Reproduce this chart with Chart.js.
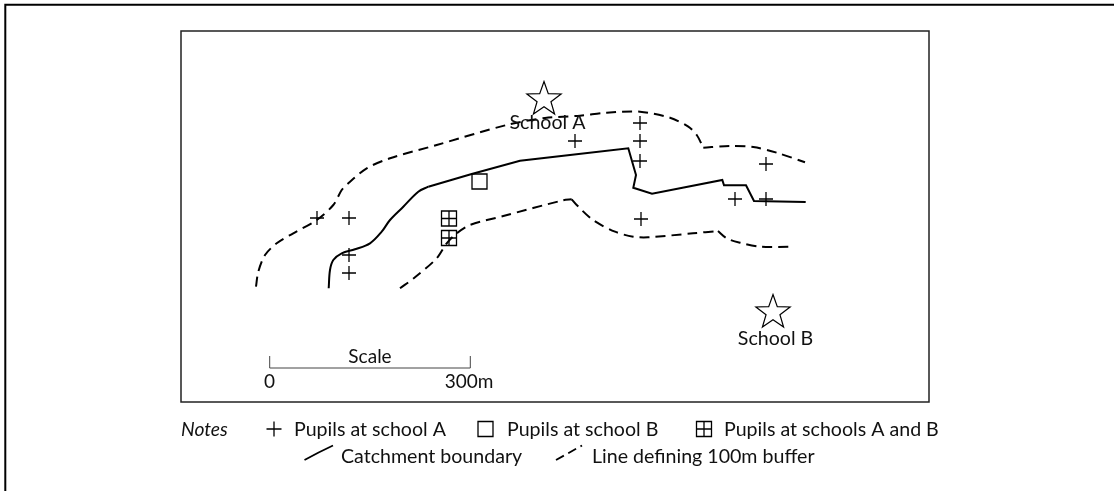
<!DOCTYPE html>
<html><head><meta charset="utf-8">
<style>html,body{margin:0;padding:0;background:#fff}#wrap{position:relative;width:1114px;height:491px;overflow:hidden}canvas{display:block}</style>
<script src="https://cdn.jsdelivr.net/npm/chart.js@4/dist/chart.umd.min.js"></script>
</head><body><div id="wrap"><canvas id="c" width="1114" height="491"></canvas></div>
<script>
// Map grid coordinates, origin at the lower-left corner of the map.
const pupilsA=[[136,184],[168,184],[168,147],[168,129],[394,261],[459,279],[459,261],[459,241],[460,183],[585,238],[554,203],[585,203]];
const pupilsB=[[298.5,220.5]];
const pupilsBoth=[[268,183.5],[268,164]];
const schools=[[363,304],[592,91]];
const schoolNames=['School A','School B'];
const catchmentCurve=[[147.7,113.7],[149,132],[152.3,142],[160.7,148.7],[174,152.7],[189,158.7],[200.7,170.3],[209,182],[222.3,195.3],[237.3,210.3],[247.3,215.3]];
const catchmentAngular=[[247.3,215.3],[290.7,228],[339,241.3],[389,247],[447.3,253.7],[455,227],[452.3,214.3],[471,208.3],[541.3,222],[543,216.7],[565,216.7],[573,201],[624.7,200]];
const bufferNorth=[[75,115.3],[77.3,130.3],[84,147],[95.7,158.7],[112.3,168.7],[135.7,182],[152.3,197],[160.7,212],[167.3,218.7],[185.7,233.7],[209,243.7],[255.7,257],[325.7,277],[364,284],[399,286.3],[425.7,289.3],[459,290.3],[489,284.3],[507.3,275.3],[515.7,267],[522.3,254.3]];
const bufferNorthEast=[[522.3,254.3],[549,256],[572.3,255],[595.7,249.3],[624,239.7]];
const bufferSouth=[[219,113.7],[234,124.7],[255.7,143.7],[265.7,158.7],[275.7,168.7],[289,177],[322.3,186],[382,201.7],[390.7,202.7]];
const bufferSouthEast=[[390.7,202.7],[395.7,197],[412,182],[434,170.3],[452.3,165.3],[467,164.7],[512,168.7],[537,171]];
const bufferSouthTail=[[537,171],[545.7,163.7],[559,159.3],[579,155.3],[610.7,155.3]];
const scaleBar=[[88.7,46],[88.7,34],[289.3,34],[289.3,46]];
const scaleLabels=[['Scale',189,39.3],['0',88.5,14],['300m',288,14]];
const legendRowOne=['Pupils at school A','Pupils at school B','Pupils at schools A and B'];
const legendRowTwo=['Catchment boundary','Line defining 100m buffer'];
const notesLabel='Notes';

const FONT='Lato, "Open Sans", sans-serif', INK='#000';
const xy=a=>a.map(p=>({x:p[0],y:p[1]}));
function starSprite(){
  const s=document.createElement('canvas');s.width=s.height=40;
  const g=s.getContext('2d');g.translate(20,21.5);g.beginPath();
  for(let i=0;i<10;i++){const r=i%2?7.3:18,a=-Math.PI/2+i*Math.PI/5;g[i?'lineTo':'moveTo'](r*Math.cos(a),r*Math.sin(a));}
  g.closePath();g.strokeStyle=INK;g.lineWidth=1.2;g.stroke();return s;
}
const star=starSprite();
const line=(data,dash,tension,w)=>({type:'line',data:xy(data),borderColor:'#000',borderWidth:w||2,borderDash:dash||[],tension:tension||0,pointRadius:0,fill:false,borderCapStyle:'butt'});
const marks=(data,style,radius)=>({type:'scatter',data:xy(data),pointStyle:style,pointRadius:radius,pointHoverRadius:radius,pointBorderColor:INK,pointBackgroundColor:'transparent',pointBorderWidth:1.3,showLine:false});
const DASH=[10,6];

const frame={id:'frame',beforeDraw(ch){
  const g=ch.ctx,a=ch.chartArea;g.save();g.strokeStyle='#222';g.lineWidth=1.5;
  g.strokeRect(a.left,a.top,a.width,a.height);
  g.strokeStyle='#000';g.lineWidth=2;g.beginPath();g.moveTo(5.3,491);g.lineTo(5.3,4.8);g.lineTo(1114,4.8);g.stroke();g.restore();
}};
const notes={id:'notes',afterDatasetsDraw(ch){
  const g=ch.ctx,X=ch.scales.x,Y=ch.scales.y;g.save();g.fillStyle='#111';g.textBaseline='alphabetic';g.textAlign='center';
  g.font='19.6px '+FONT;
  schoolNames.forEach((n,i)=>{g.fillText(n,X.getPixelForValue(schools[i][0])+[3.5,2.5][i],Y.getPixelForValue(schools[i][1])+[30.5,34][i]);});
  g.font='19px '+FONT;
  scaleLabels.forEach(([t,x,y])=>g.fillText(t,X.getPixelForValue(x),Y.getPixelForValue(y)));
  // scale bar
  g.strokeStyle='#444';g.lineWidth=1;g.beginPath();
  scaleBar.forEach((p,i)=>{const px=X.getPixelForValue(p[0]),py=Y.getPixelForValue(p[1]);g[i?'lineTo':'moveTo'](px,py);});g.stroke();
  // legend
  const yA=436,yB=463;g.textAlign='left';g.font='italic 19.3px '+FONT;g.fillText(notesLabel,181,yA);
  g.font='19.6px '+FONT;
  g.fillText(legendRowOne[0],294,yA);g.fillText(legendRowOne[1],507,yA);g.fillText(legendRowOne[2],724,yA);
  g.fillText(legendRowTwo[0],341,yB);g.fillText(legendRowTwo[1],592,yB);
  const dp=Chart.helpers.drawPoint,o=(s,r)=>({pointStyle:s,radius:r,borderWidth:1.3});
  g.strokeStyle=INK;g.lineWidth=1.3;g.fillStyle='transparent';
  const dot=(s,r,x,y)=>dp(g,o(s,r),x,y);
  dot('cross',7.5,274,429);dot('rect',10.6,485.5,429);dot('rect',10.6,704,429);dot('cross',7.5,704,429);
  g.strokeStyle='#000';g.lineWidth=1.8;
  g.beginPath();g.moveTo(304.5,460);g.quadraticCurveTo(318,452.5,333,445.5);g.stroke();
  g.setLineDash([9,5]);g.beginPath();g.moveTo(556,460);g.lineTo(582,445.5);g.stroke();
  g.restore();
}};
new Chart(document.getElementById('c'),{
  type:'scatter',
  data:{datasets:[
    line(bufferNorth,DASH,.3),line(bufferNorthEast,DASH,.3),line(bufferSouth,DASH,.3),line(bufferSouthEast,DASH,.3),line(bufferSouthTail,DASH,.3),
    line(catchmentCurve,null,.35),line(catchmentAngular),
    marks(pupilsA,'cross',7),marks(pupilsB,'rect',10.6),marks(pupilsBoth,'rect',10.6),marks(pupilsBoth,'cross',7.5),
    marks(schools,star,18)
  ]},
  options:{responsive:false,animation:false,devicePixelRatio:1,
    layout:{padding:{left:181,top:31,right:185,bottom:89}},
    plugins:{legend:{display:false},tooltip:{enabled:false}},
    scales:{x:{type:'linear',min:0,max:748,display:false},y:{type:'linear',min:0,max:371,display:false}}},
  plugins:[frame,notes]
});
</script></body></html>
